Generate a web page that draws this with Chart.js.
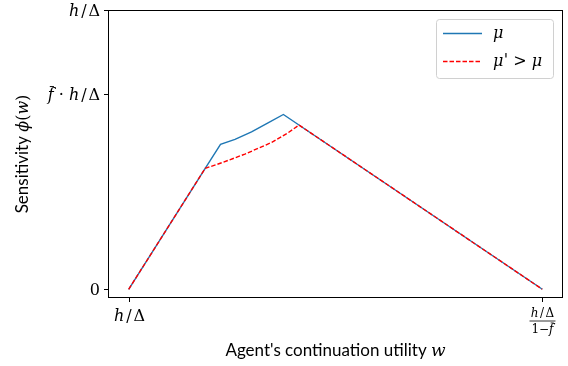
<!DOCTYPE html>
<html>
<head>
<meta charset="utf-8">
<script src="https://cdn.jsdelivr.net/npm/chart.js@4"></script>
<style>
  html, body { margin: 0; padding: 0; background: #fff; }
</style>
</head>
<body>
<canvas id="sensitivity-chart" width="568" height="366"></canvas>
<script>
// w is scaled so that h/Δ -> 0 and (h/Δ)/(1-f̄) -> 1, phi in units of h/Δ
const w_mu = [0, 0.185, 0.222, 0.257, 0.297, 0.338, 0.374, 1];
const phi_mu = [0, 0.433, 0.519, 0.537, 0.564, 0.597, 0.626, 0];

const w_mu_high = [0, 0.185, 0.225, 0.281, 0.346, 0.386, 0.412, 1];
const phi_mu_high = [0, 0.433, 0.453, 0.484, 0.526, 0.561, 0.588, 0];

const series_labels = ["μ", "μ′ > μ"];
const series_colors = ["#1f77b4", "#ff0000"];

const x_ticks = [0, 1];
const x_tick_labels = ["h/Δ", ["h/Δ", "1−f̄"]];   // array = fraction
const y_ticks = [0, 0.7, 1];
const y_tick_labels = ["0", "f̄ · h/Δ", "h/Δ"];

const x_title = ["Agent's continuation utility ", "w"];
const y_title = ["Sensitivity ", "ϕ(w)"];

const SANS = '"Lato"';
const SERIF = '"DejaVu Serif"';

function to_points(xs, ys) {
  return xs.map((x, i) => ({ x: x, y: ys[i] }));
}

// split a formula into glyphs: lowercase latin/greek italic, the rest upright
function math_parts(str, size) {
  const parts = [];
  for (const ch of str) {
    if (ch === '\u0304') { parts[parts.length - 1].bar = true; continue; }
    if (ch === '′') {
      // prime: slanted straight stroke drawn with the italic apostrophe
      parts.push({ text: "'", font: 'italic ' + size + 'px ' + SERIF, pad: 0,
                   size: size, shift: size * 0.02, raise: size * 0.08 });
      continue;
    }
    const italic = /[a-zμϕ]/.test(ch);
    parts.push({ text: ch, font: (italic ? 'italic ' : '') + size + 'px ' + SERIF,
                 pad: ch === '/' ? size * 0.12 : 0, size: size });
  }
  return parts;
}

// draw a run of parts on one baseline; align is 'left' | 'center' | 'right'
function draw_parts(ctx, parts, x, base, align) {
  let total = 0;
  parts.forEach(p => {
    ctx.font = p.font;
    p.w = ctx.measureText(p.text).width + 2 * (p.pad || 0) + (p.shift || 0);
    total += p.w;
  });
  let cx = align === 'right' ? x - total : align === 'center' ? x - total / 2 : x;
  ctx.textAlign = 'left';
  ctx.textBaseline = 'alphabetic';
  parts.forEach(p => {
    ctx.font = p.font;
    ctx.fillText(p.text, cx + (p.pad || 0) + (p.shift || 0), base - (p.raise || 0));
    if (p.bar) {
      const s = p.size;
      ctx.save();
      ctx.lineWidth = s * 0.06;
      ctx.beginPath();
      ctx.moveTo(cx + p.w * 0.35, base - s * 0.84);
      ctx.lineTo(cx + p.w * 1.05, base - s * 0.84);
      ctx.stroke();
      ctx.restore();
    }
    cx += p.w;
  });
  return total;
}

const axes_plugin = {
  id: 'axes_plugin',
  afterDraw(chart) {
    const ctx = chart.ctx;
    const area = chart.chartArea;
    const xs = chart.scales.x, ys = chart.scales.y;
    ctx.save();
    ctx.fillStyle = '#000';
    ctx.strokeStyle = '#000';

    // frame
    ctx.lineWidth = 1;
    ctx.strokeRect(Math.round(area.left) + 0.5, Math.round(area.top) + 0.5,
                   Math.round(area.right - area.left) - 1, Math.round(area.bottom - area.top) - 1);

    // y ticks
    y_ticks.forEach((v, i) => {
      const py = Math.round(ys.getPixelForValue(v)) + 0.5;
      ctx.beginPath();
      ctx.moveTo(area.left - 4, py);
      ctx.lineTo(area.left, py);
      ctx.stroke();
      draw_parts(ctx, math_parts(y_tick_labels[i], 16), area.left - 8, py + 5.5, 'right');
    });

    // x ticks
    x_ticks.forEach((v, i) => {
      const px = Math.round(xs.getPixelForValue(v)) + 0.5;
      ctx.beginPath();
      ctx.moveTo(px, area.bottom);
      ctx.lineTo(px, area.bottom + 4);
      ctx.stroke();
      const lab = x_tick_labels[i];
      if (Array.isArray(lab)) {
        draw_parts(ctx, math_parts(lab[0], 12), px, area.bottom + 19, 'center');
        ctx.lineWidth = 0.8;
        ctx.beginPath();
        ctx.moveTo(px - 13, area.bottom + 23);
        ctx.lineTo(px + 13, area.bottom + 23);
        ctx.stroke();
        draw_parts(ctx, math_parts(lab[1], 12), px, area.bottom + 35, 'center');
        ctx.lineWidth = 1;
      } else {
        draw_parts(ctx, math_parts(lab, 16), px, area.bottom + 23, 'center');
      }
    });

    // axis titles
    const xt = [{ text: x_title[0], font: '17px ' + SANS }].concat(math_parts(x_title[1], 17));
    draw_parts(ctx, xt, (area.left + area.right) / 2, 356, 'center');

    ctx.save();
    ctx.translate(22, (area.top + area.bottom) / 2);
    ctx.rotate(-Math.PI / 2);
    const yt = [{ text: y_title[0], font: '17px ' + SANS }].concat(math_parts(y_title[1], 16));
    draw_parts(ctx, yt, 0, 6, 'center');
    ctx.restore();

    // legend
    const lx = 436, ly = 19, lw = 117, lh = 59;
    ctx.fillStyle = 'rgba(255,255,255,0.8)';
    ctx.strokeStyle = '#d0d0d0';
    ctx.lineWidth = 1;
    ctx.beginPath();
    ctx.roundRect(lx + 0.5, ly + 0.5, lw, lh, 3);
    ctx.fill();
    ctx.stroke();
    chart.data.datasets.forEach((ds, i) => {
      const ry = ly + 14 + i * 28;
      ctx.strokeStyle = ds.borderColor;
      ctx.lineWidth = ds.borderWidth;
      ctx.setLineDash(ds.borderDash || []);
      ctx.beginPath();
      ctx.moveTo(lx + 7, ry + 0.5);
      ctx.lineTo(lx + 46, ry + 0.5);
      ctx.stroke();
      ctx.setLineDash([]);
      ctx.fillStyle = '#000';
      ctx.strokeStyle = '#000';
      draw_parts(ctx, math_parts(ds.label, 16), lx + 57, ry + 5, 'left');
    });

    ctx.restore();
  }
};

new Chart(document.getElementById("sensitivity-chart"), {
  type: 'line',
  data: {
    datasets: [{
        data: to_points(w_mu, phi_mu),
        label: series_labels[0],
        borderColor: series_colors[0],
        borderWidth: 1.4,
        pointRadius: 0,
        fill: false,
        order: 1
      }, {
        data: to_points(w_mu_high, phi_mu_high),
        label: series_labels[1],
        borderColor: series_colors[1],
        borderWidth: 1.4,
        borderDash: [4.5, 2],
        pointRadius: 0,
        fill: false,
        order: 0
      }
    ]
  },
  options: {
    responsive: false,
    animation: false,
    layout: { padding: { left: 108, right: 5, top: 10, bottom: 68 } },
    scales: {
      x: { type: 'linear', min: -0.05, max: 1.05, display: false },
      y: { type: 'linear', min: -0.03125, max: 1, display: false }
    },
    plugins: { legend: { display: false }, tooltip: { enabled: false } }
  },
  plugins: [axes_plugin]
});
</script>
</body>
</html>
